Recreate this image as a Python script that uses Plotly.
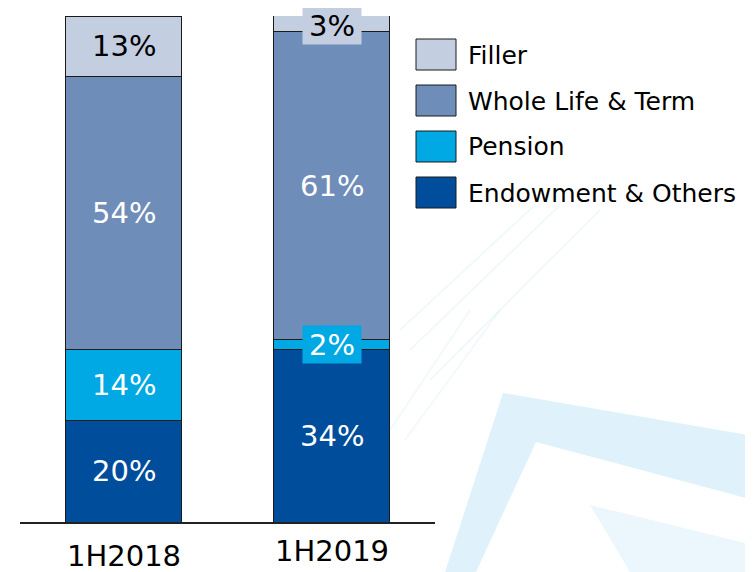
import plotly.graph_objects as go

# ---- data ----
categories = ["1H2018", "1H2019"]
series_names = ["Endowment & Others", "Pension", "Whole Life & Term", "Filler"]
endowment = [20, 34]
pension = [14, 2]
whole_life = [54, 61]
filler = [12, 3.2]
label_endowment = ["20%", "34%"]
label_pension = ["14%", "2%"]
label_whole_life = ["54%", "61%"]
label_filler = ["13%", "3%"]

colors = {
    "Endowment & Others": "#004E9B",
    "Pension": "#00A8E4",
    "Whole Life & Term": "#6F8DB9",
    "Filler": "#C4CEE1",
}
text_colors = {
    "Endowment & Others": "white",
    "Pension": "white",
    "Whole Life & Term": "white",
    "Filler": "black",
}

values = [endowment, pension, whole_life, filler]
labels = [label_endowment, label_pension, label_whole_life, label_filler]

FONT = "DejaVu Sans"
OFF = 8  # page body margin
SW, SH = 753, 572  # screen size
W, H = SW - OFF, SH - OFF
# plot area on screen: x 20..435, y 16..522
PX0, PX1, PY0, PY1 = 20, 435, 16, 522
L, R, T, B = PX0 - OFF, SW - PX1, PY0 - OFF, SH - PY1


def px(xs):
    return (xs - PX0) / (PX1 - PX0)


def py(ys):
    return (PY1 - ys) / (PY1 - PY0)


fig = go.Figure()

# ---- faint background watermark (decorative) ----
deco_fill = "rgba(175,222,244,0.40)"
shapes = []
shapes.append(dict(type="path", xref="paper", yref="paper", layer="below",
                   path=f"M {px(503)},{py(393)} L {px(753)},{py(436)} L {px(753)},{py(500)} "
                        f"L {px(536)},{py(442)} L {px(476)},{py(572)} L {px(445)},{py(572)} Z",
                   fillcolor=deco_fill, line=dict(width=0)))
shapes.append(dict(type="path", xref="paper", yref="paper", layer="below",
                   path=f"M {px(590)},{py(505)} L {px(753)},{py(545)} L {px(753)},{py(572)} L {px(630)},{py(572)} Z",
                   fillcolor="rgba(190,228,246,0.30)", line=dict(width=0)))
for (x0, y0, x1, y1) in [(400, 330, 535, 205), (410, 350, 560, 205), (430, 380, 600, 210),
                         (390, 430, 470, 310), (405, 440, 500, 310)]:
    shapes.append(dict(type="line", xref="paper", yref="paper", layer="below",
                       x0=px(x0), y0=py(y0), x1=px(x1), y1=py(y1),
                       line=dict(color="rgba(215,238,242,0.35)", width=2)))

# ---- bars ----
for name, vals in zip(series_names, values):
    fig.add_trace(go.Bar(
        x=[0, 1], y=vals, name=name, width=0.553,
        marker=dict(color=colors[name], line=dict(color="#1a1a1a", width=1)),
        showlegend=False, hoverinfo="skip",
    ))

# ---- segment labels ----
annotations = []
for ci in range(len(categories)):
    base = 0
    for name, vals, labs in zip(series_names, values, labels):
        v = vals[ci]
        mid = base + v / 2
        small = v < 5
        ann = dict(
            x=ci, y=mid, xref="x", yref="y", text=labs[ci], showarrow=False,
            font=dict(family=FONT, size=29, color=text_colors[name]),
        )
        if small:
            ann.update(bgcolor=colors[name], borderpad=2, height=33, width=54)
            if name == "Filler":
                ann.update(yshift=-2)
        annotations.append(ann)
        base += v

# ---- category labels ----
cat_center = [556, 551]
for ci, c in enumerate(categories):
    annotations.append(dict(
        x=ci, y=py(cat_center[ci]), xref="x", yref="paper", text=c, showarrow=False,
        yanchor="middle",
        font=dict(family=FONT, size=29, color="black"),
    ))

# ---- custom legend ----
legend_items = ["Filler", "Whole Life & Term", "Pension", "Endowment & Others"]
legend_tops = [39, 85, 131, 177]
for name, top in zip(legend_items, legend_tops):
    shapes.append(dict(type="rect", xref="paper", yref="paper",
                       x0=px(416), x1=px(456), y0=py(top), y1=py(top + 31),
                       fillcolor=colors[name], line=dict(color="#1a1a1a", width=1)))
    annotations.append(dict(
        x=px(466), y=py(top + 16), xref="paper", yref="paper", text=name,
        showarrow=False, xanchor="left", yanchor="middle",
        font=dict(family=FONT, size=25, color="black"),
    ))

fig.update_layout(
    barmode="stack",
    width=W, height=H,
    margin=dict(l=L, r=R, t=T, b=B),
    paper_bgcolor="white", plot_bgcolor="rgba(0,0,0,0)",
    shapes=shapes, annotations=annotations,
    showlegend=False,
    xaxis=dict(range=[-0.4976, 1.4976], showticklabels=False, showgrid=False,
               zeroline=False, showline=True, linecolor="#222222", linewidth=1.5,
               ticks="", fixedrange=True),
    yaxis=dict(range=[0, 100], visible=False, fixedrange=True),
)

fig.write_html("out.html")
